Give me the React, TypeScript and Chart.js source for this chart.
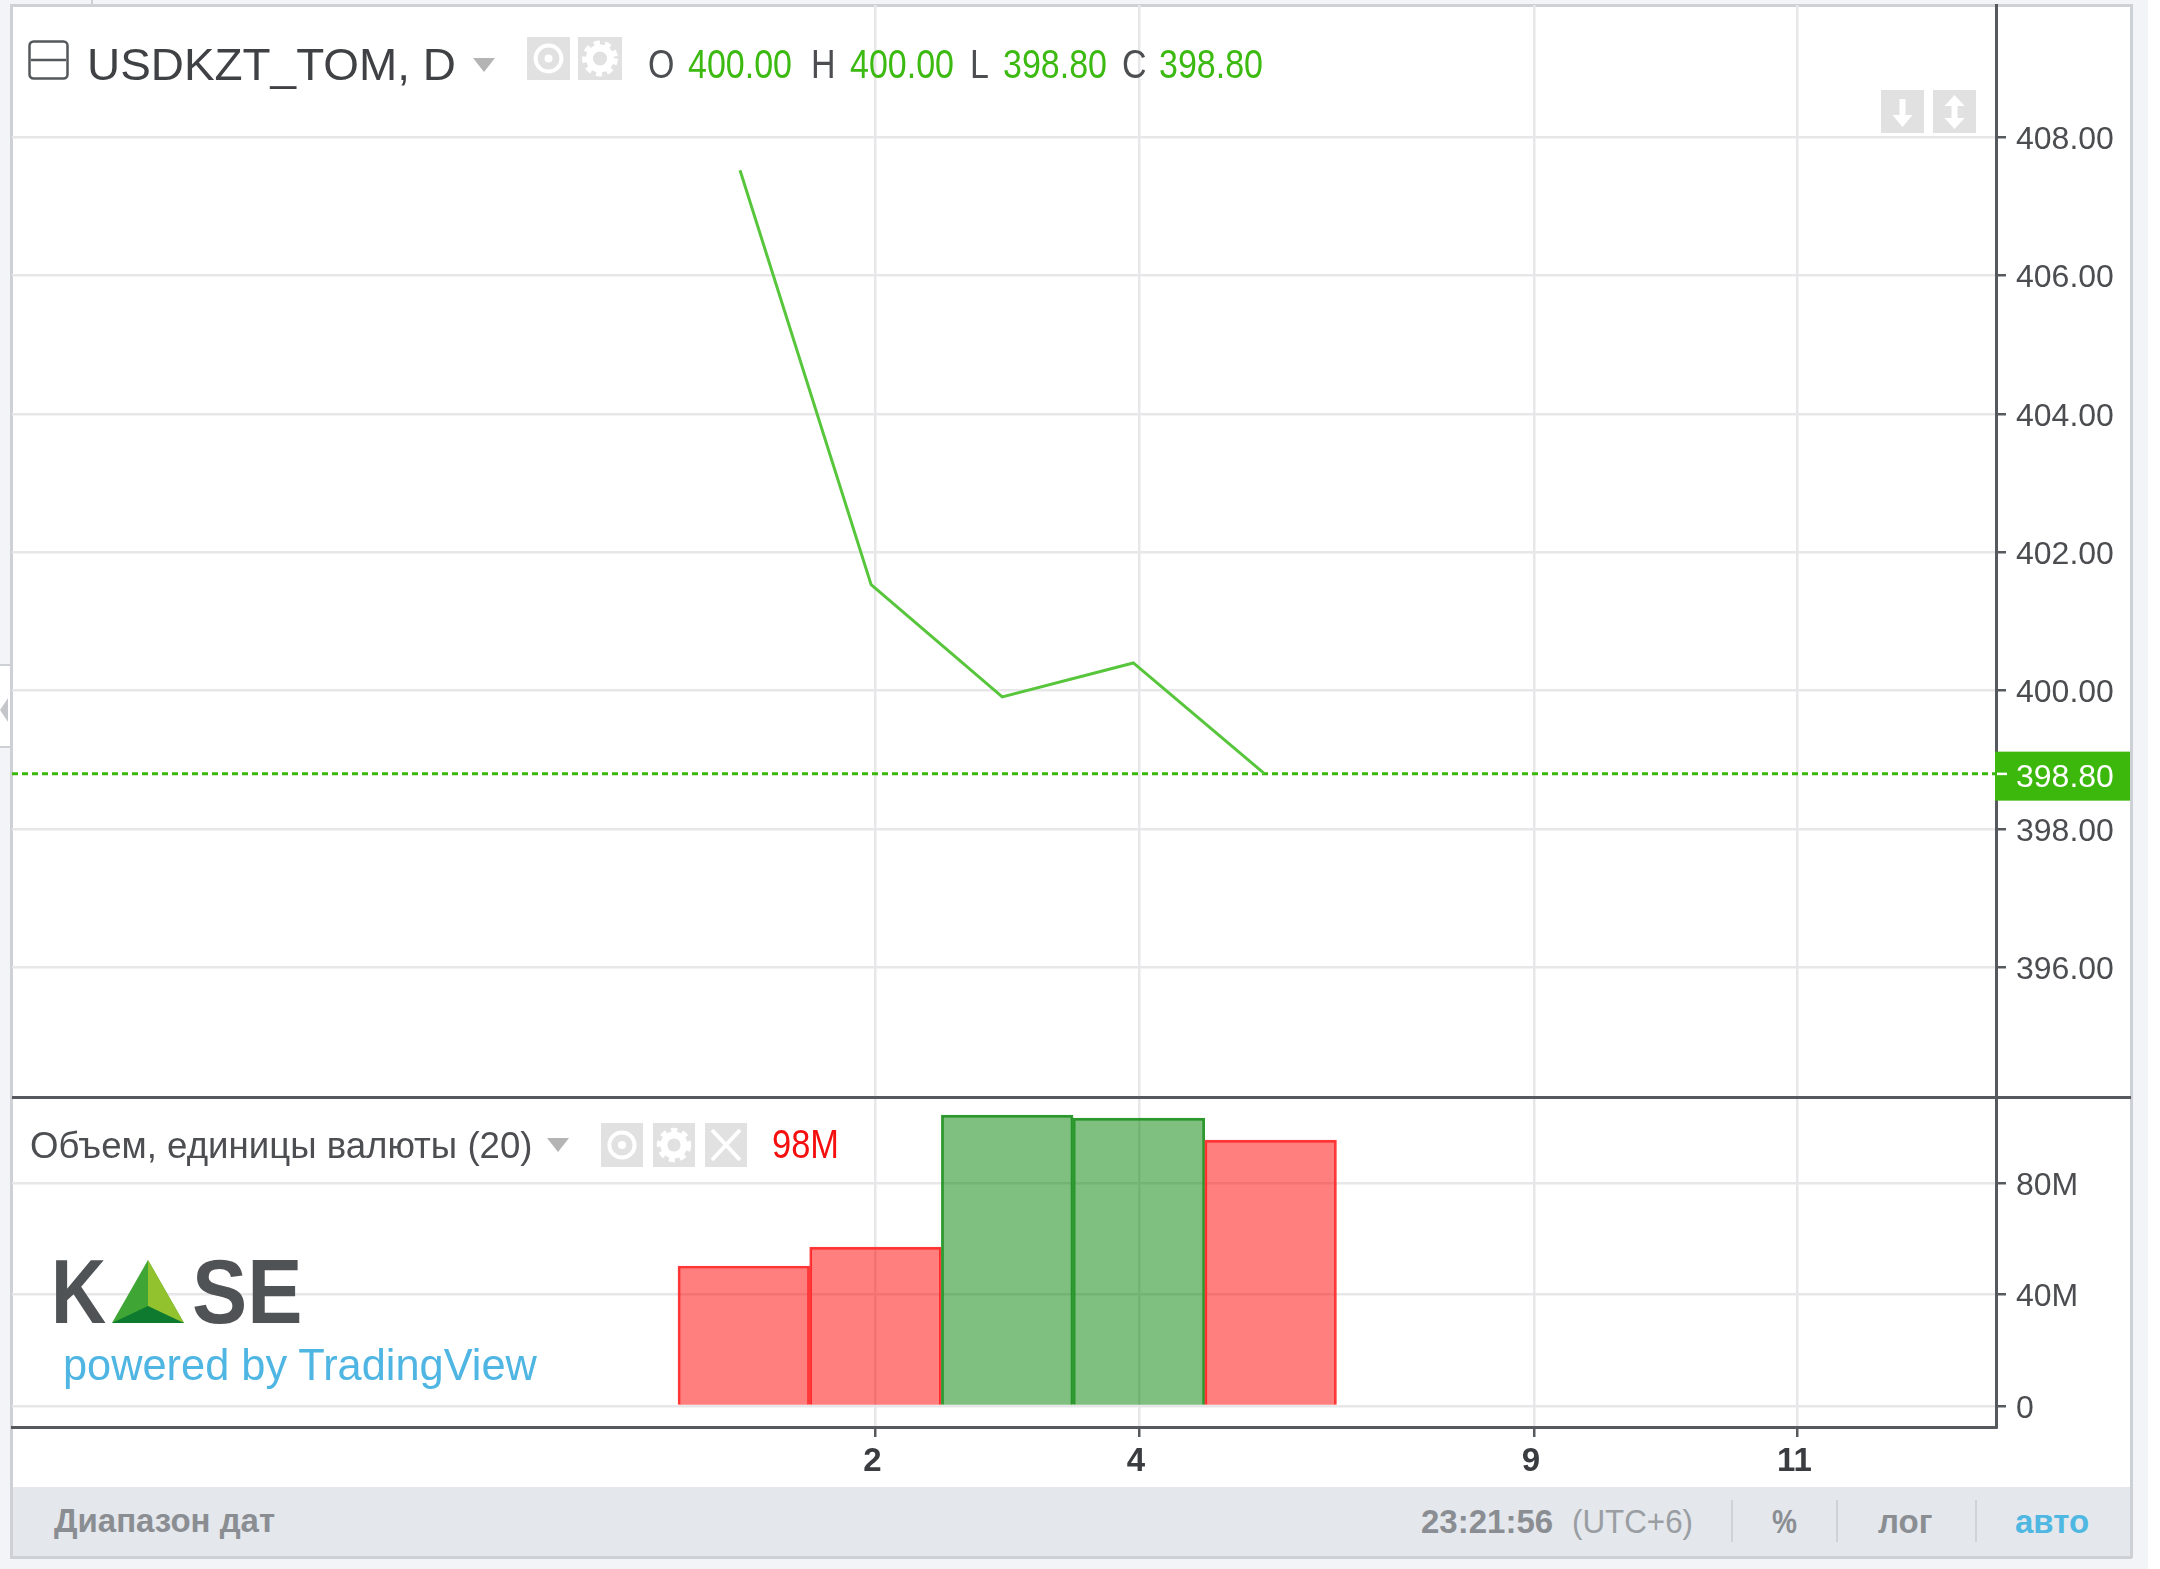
import React, { useEffect, useRef } from "react";
import { Chart, registerables } from "chart.js";

Chart.register(...registerables);

const tradingDays = [1, 2, 3, 4, 5, 8, 9, 10, 11, 12];
const sessionDays = [1, 2, 3, 4, 5];
const closes = [407.52, 401.53, 399.91, 400.4, 398.8];
const volumesM = [50.3, 57.1, 104.5, 103.4, 95.5];
const volumeRising = [false, false, true, true, false];
const priceTicks = [396, 398, 400, 402, 404, 406, 408];
const volumeTicks = [0, 40, 80];
const dayTicks = [2, 4, 9, 11];
const lastPrice = 398.8;

const FONT = "'Liberation Sans', Arial, sans-serif";
const AXIS = "#565a5e";
const GRID = "#e7e7e9";
const TEXT = "#4b4d50";
const GREEN = "#3cb80c";
const X_MIN = -5.557;
const X_MAX = 9.508;

const slot = (day: number) => tradingDays.indexOf(day);

function setTicks(values: number[]) {
  return (scale: any) => {
    scale.ticks = values.map((value) => ({ value }));
  };
}

function noPadding(scale: any) {
  scale.paddingTop = 0;
  scale.paddingBottom = 0;
  scale.paddingLeft = 0;
  scale.paddingRight = 0;
}

function fixWidth(scale: any) {
  scale.width = 164;
  noPadding(scale);
}

function PriceChart() {
  const ref = useRef<HTMLCanvasElement>(null);
  useEffect(() => {
    const lastLabel = {
      id: "lastLabel",
      afterDraw(chart: any) {
        const { ctx, scales } = chart;
        const y = scales.y.getPixelForValue(lastPrice);
        ctx.save();
        ctx.fillStyle = GREEN;
        ctx.fillRect(1995, y - 22, 135, 49);
        ctx.fillStyle = "#ffffff";
        ctx.fillRect(1997, y - 1, 10, 2.5);
        ctx.font = `32px ${FONT}`;
        ctx.textBaseline = "middle";
        ctx.fillText(lastPrice.toFixed(2), 2016, y + 5);
        ctx.restore();
      },
    };
    const chart = new Chart(ref.current!, {
      type: "line",
      data: {
        datasets: [
          {
            label: "USDKZT_TOM",
            data: sessionDays.map((d, i) => ({ x: slot(d), y: closes[i] })),
            borderColor: "#58c63c",
            borderWidth: 3,
            pointRadius: 0,
            tension: 0,
            xAxisID: "xLine",
          },
          {
            label: "last",
            data: [
              { x: X_MIN, y: lastPrice },
              { x: X_MAX, y: lastPrice },
            ],
            borderColor: GREEN,
            borderWidth: 3,
            borderDash: [6, 4],
            pointRadius: 0,
          },
        ],
      },
      options: {
        animation: false,
        responsive: false,
        devicePixelRatio: 1,
        layout: { padding: { left: 12, top: 5, right: 0, bottom: 0 } },
        plugins: { legend: { display: false }, tooltip: { enabled: false } },
        scales: {
          x: {
            type: "linear",
            min: X_MIN,
            max: X_MAX,
            afterBuildTicks: setTicks(dayTicks.map(slot)),
            afterFit: (s: any) => {
              s.height = 0;
              noPadding(s);
            },
            ticks: { display: false },
            border: { display: false },
            grid: { color: GRID, lineWidth: 2.5, drawTicks: false },
          },
          xLine: {
            type: "linear",
            display: false,
            min: -5.553,
            max: 9.58,
          },
          y: {
            position: "right",
            min: 394.127,
            max: 409.908,
            afterBuildTicks: setTicks(priceTicks),
            afterFit: fixWidth,
            ticks: {
              padding: 10,
              labelOffset: 3,
              color: TEXT,
              autoSkip: false,
              font: { family: FONT, size: 32 },
              callback: (v: any) => Number(v).toFixed(2),
            },
            border: { color: AXIS, width: 3 },
            grid: { color: GRID, lineWidth: 2.5, tickColor: AXIS, tickLength: 10, tickWidth: 2.5 },
          },
        },
      },
      plugins: [lastLabel],
    } as any);
    return () => chart.destroy();
  }, []);
  return <canvas ref={ref} width={2160} height={1097} style={{ position: "absolute", left: 0, top: 0 }} />;
}

function VolumeChart() {
  const ref = useRef<HTMLCanvasElement>(null);
  useEffect(() => {
    const chart = new Chart(ref.current!, {
      type: "bar",
      data: {
        datasets: [
          {
            label: "Объем",
            data: sessionDays.map((d, i) => ({ x: slot(d), y: volumesM[i] })),
            backgroundColor: volumeRising.map((r) => (r ? "rgba(0,128,0,0.5)" : "rgba(255,0,0,0.5)")),
            borderColor: volumeRising.map((r) => (r ? "#2f9a30" : "#ff3a3a")),
            borderWidth: 2,
            borderSkipped: "bottom",
            barPercentage: 1,
            categoryPercentage: 1,
          },
        ],
      },
      options: {
        animation: false,
        responsive: false,
        devicePixelRatio: 1,
        layout: { padding: { left: 12, top: 0, right: 0, bottom: 0 } },
        plugins: { legend: { display: false }, tooltip: { enabled: false } },
        scales: {
          x: {
            type: "linear",
            offset: false,
            min: X_MIN,
            max: X_MAX,
            afterBuildTicks: setTicks(dayTicks.map(slot)),
            afterFit: (s: any) => {
              s.height = 60;
              noPadding(s);
            },
            ticks: {
              padding: 5,
              labelOffset: -3,
              color: "#3a3c3f",
              autoSkip: false,
              maxRotation: 0,
              font: { family: FONT, size: 33, weight: "bold" },
              callback: (v: any) => String(tradingDays[Number(v)]),
            },
            border: { color: AXIS, width: 3 },
            grid: { offset: false, color: GRID, lineWidth: 2.5, tickColor: AXIS, tickLength: 10, tickWidth: 2.5 },
          },
          y: {
            position: "right",
            min: -7.54,
            max: 111,
            afterBuildTicks: setTicks(volumeTicks),
            afterFit: fixWidth,
            ticks: {
              padding: 10,
              labelOffset: 3,
              color: TEXT,
              autoSkip: false,
              font: { family: FONT, size: 32 },
              callback: (v: any) => (Number(v) === 0 ? "0" : `${v}M`),
            },
            border: { color: AXIS, width: 3 },
            grid: { color: GRID, lineWidth: 2.5, tickColor: AXIS, tickLength: 10, tickWidth: 2.5 },
          },
        },
      },
    } as any);
    return () => chart.destroy();
  }, []);
  return <canvas ref={ref} width={2160} height={390} style={{ position: "absolute", left: 0, top: 1097 }} />;
}

function Txt(p: {
  x: number;
  base: number;
  size: number;
  color: string;
  sx?: number;
  bold?: boolean;
  spacing?: number;
  family?: string;
  children: React.ReactNode;
}) {
  return (
    <div
      style={{
        position: "absolute",
        left: p.x,
        top: p.base - 0.8465 * p.size,
        fontFamily: p.family ?? FONT,
        fontSize: p.size,
        lineHeight: 1,
        fontWeight: p.bold ? 700 : 400,
        color: p.color,
        whiteSpace: "nowrap",
        letterSpacing: p.spacing ?? 0,
        transform: p.sx ? `scaleX(${p.sx})` : undefined,
        transformOrigin: "left top",
      }}
    >
      {p.children}
    </div>
  );
}

function Box(p: { x: number; y: number; w: number; h: number; kind: "eye" | "gear" | "close" | "down" | "updown" }) {
  const cx = p.w / 2;
  const cy = p.h / 2;
  return (
    <svg style={{ position: "absolute", left: p.x, top: p.y }} width={p.w} height={p.h}>
      <rect width={p.w} height={p.h} fill="#e1e1e1" />
      {p.kind === "eye" && (
        <>
          <circle cx={cx} cy={cy} r={p.w * 0.3} fill="none" stroke="#fff" strokeWidth={4} />
          <circle cx={cx} cy={cy} r={4} fill="#fff" />
        </>
      )}
      {p.kind === "gear" && (
        <>
          <circle cx={cx} cy={cy} r={p.w * 0.24} fill="none" stroke="#fff" strokeWidth={7} />
          <circle cx={cx} cy={cy} r={p.w * 0.35} fill="none" stroke="#fff" strokeWidth={5} strokeDasharray="6 5" />
        </>
      )}
      {p.kind === "close" && (
        <path d={`M${cx - 14} ${cy - 15}L${cx + 14} ${cy + 15}M${cx + 14} ${cy - 15}L${cx - 14} ${cy + 15}`} stroke="#fff" strokeWidth={4} />
      )}
      {p.kind === "down" && (
        <path d={`M${cx - 3} 9h6v16h7L${cx} 37L${cx - 10} 25h7z`} fill="#fff" />
      )}
      {p.kind === "updown" && (
        <path d={`M${cx} 5L${cx + 10} 16h-7v12h7L${cx} 39L${cx - 10} 28h7v-12h-7z`} fill="#fff" />
      )}
    </svg>
  );
}

function Arrow({ x, y, w, h }: { x: number; y: number; w: number; h: number }) {
  return (
    <svg style={{ position: "absolute", left: x, top: y }} width={w} height={h}>
      <path d={`M0 0H${w}L${w / 2} ${h}z`} fill="#b4b4b4" />
    </svg>
  );
}

function Rect(p: { x: number; y: number; w: number; h: number; c: string }) {
  return <div style={{ position: "absolute", left: p.x, top: p.y, width: p.w, height: p.h, background: p.c }} />;
}

export default function App() {
  const GREEN_TXT = "#3cba12";
  const DARK = "#4c4e51";
  return (
    <div
      style={{
        position: "fixed",
        left: 0,
        top: 0,
        width: 2160,
        height: 1569,
        background: "#f2f4f8",
        overflow: "hidden",
        filter: "blur(0.7px)",
      }}
    >
      <Rect x={2148} y={0} w={12} h={1569} c="#ffffff" />
      <Rect x={10} y={4} w={2122} h={1554} c="#ffffff" />
      <Rect x={10} y={1487} w={2122} h={71} c="#e4e7eb" />
      <Rect x={10} y={4} w={2122} h={3} c="#cdd0d5" />
      <Rect x={10} y={1556} w={2122} h={3} c="#cdd0d5" />
      <Rect x={10} y={4} w={3} h={1554} c="#cdd0d5" />
      <Rect x={2130} y={4} w={3} h={1554} c="#cdd0d5" />
      <Rect x={91} y={0} w={2} h={5} c="#cdd0d5" />
      <Rect x={0} y={665} w={10} h={82} c="#ffffff" />
      <Rect x={0} y={664} w={10} h={2} c="#cdd0d5" />
      <Rect x={0} y={746} w={10} h={2} c="#cdd0d5" />
      <svg style={{ position: "absolute", left: 0, top: 698 }} width={8} height={24}>
        <path d="M8 0V24L0 12z" fill="#c4c6ca" />
      </svg>

      <PriceChart />
      <VolumeChart />
      <Rect x={12} y={1096} w={2119} h={3} c={AXIS} />

      <svg style={{ position: "absolute", left: 28, top: 40 }} width={42} height={42}>
        <rect x={1.5} y={1.5} width={38} height={37} rx={4} fill="none" stroke="#55585b" strokeWidth={2.5} />
        <path d="M3 20H38" stroke="#55585b" strokeWidth={2.5} />
      </svg>
      <Txt x={87} base={80} size={45} color="#3f4144" sx={1.02}>USDKZT_TOM, D</Txt>
      <Arrow x={473} y={58} w={22} h={14} />
      <Box x={527} y={37} w={43} h={43} kind="eye" />
      <Box x={578} y={37} w={44} h={43} kind="gear" />
      <Txt x={648} base={78} size={40} color={DARK} sx={0.85}>O</Txt>
      <Txt x={688} base={78} size={40} color={GREEN_TXT} sx={0.85}>400.00</Txt>
      <Txt x={811} base={78} size={40} color={DARK} sx={0.85}>H</Txt>
      <Txt x={850} base={78} size={40} color={GREEN_TXT} sx={0.85}>400.00</Txt>
      <Txt x={970} base={78} size={40} color={DARK} sx={0.85}>L</Txt>
      <Txt x={1003} base={78} size={40} color={GREEN_TXT} sx={0.85}>398.80</Txt>
      <Txt x={1122} base={78} size={40} color={DARK} sx={0.85}>C</Txt>
      <Txt x={1159} base={78} size={40} color={GREEN_TXT} sx={0.85}>398.80</Txt>
      <Box x={1881} y={90} w={43} h={43} kind="down" />
      <Box x={1933} y={90} w={43} h={43} kind="updown" />

      <Txt x={30} base={1158} size={37} color={DARK} sx={0.99}>Объем, единицы валюты (20)</Txt>
      <Arrow x={547} y={1138} w={22} h={14} />
      <Box x={601} y={1123} w={42} h={44} kind="eye" />
      <Box x={653} y={1123} w={42} h={44} kind="gear" />
      <Box x={705} y={1123} w={42} h={44} kind="close" />
      <Txt x={772} base={1158} size={40} color="#f50f0f" sx={0.86}>98M</Txt>

      <Txt x={51} base={1323} size={90} color="#505356" bold sx={0.85}>K</Txt>
      <svg style={{ position: "absolute", left: 110, top: 1258 }} width={76} height={66}>
        <path d="M38 2L2 65H74z" fill="#3fa535" />
        <path d="M38 2L74 65L38 50z" fill="#93c22f" />
        <path d="M38 48L2 65H74z" fill="#0d7a30" />
      </svg>
      <Txt x={192} base={1323} size={90} color="#505356" bold sx={0.92}>SE</Txt>
      <Txt x={63} base={1380} size={44} color="#4fb5e2" sx={0.985}>powered by TradingView</Txt>

      <Txt x={54} base={1532} size={33} color="#8a8e93" bold>Диапазон дат</Txt>
      <Txt x={1421} base={1533} size={33} color="#8a8e93" bold>23:21:56</Txt>
      <Txt x={1572} base={1533} size={33} color="#9a9ea3" sx={0.95}>(UTC+6)</Txt>
      <Rect x={1731} y={1500} w={2} h={42} c="#cfd2d6" />
      <Txt x={1772} base={1533} size={33} color="#8a8e93" bold sx={0.85}>%</Txt>
      <Rect x={1836} y={1500} w={2} h={42} c="#cfd2d6" />
      <Txt x={1878} base={1533} size={33} color="#8a8e93" bold>лог</Txt>
      <Rect x={1975} y={1500} w={2} h={42} c="#cfd2d6" />
      <Txt x={2015} base={1533} size={33} color="#4fb8e2" bold>авто</Txt>
    </div>
  );
}
